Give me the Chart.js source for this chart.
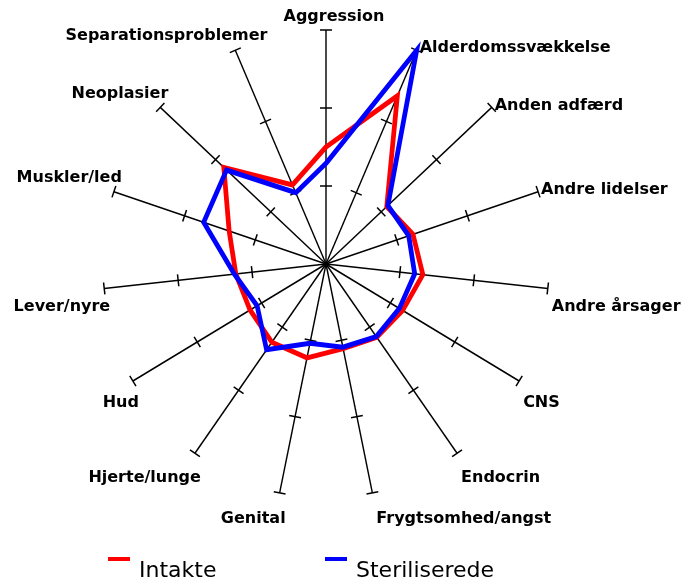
<!DOCTYPE html>
<html>
<head>
<meta charset="utf-8">
<title>Dødsårsager – radar</title>
<script src="https://cdn.jsdelivr.net/npm/chart.js@4.4.1/dist/chart.umd.min.js"></script>
<style>
  body { margin: 0; background: #fff; }
  #wrap { width: 683px; height: 581px; }
</style>
</head>
<body>
<div id="wrap"><canvas id="radarChart"></canvas></div>
<script>
const categories = [
    'Aggression', 'Alderdomssvækkelse', 'Anden adfærd', 'Andre lidelser', 'Andre årsager',
    'CNS', 'Endocrin', 'Frygtsomhed/angst', 'Genital', 'Hjerte/lunge',
    'Hud', 'Lever/nyre', 'Muskler/led', 'Neoplasier', 'Separationsproblemer'
];
const intakte =       [15.0, 23.6, 11.0, 12.3, 13.1, 11.9, 11.6, 11.1, 12.3, 12.4, 11.8, 12.2, 13.7, 18.5, 11.1];
const steriliserede = [12.9, 30.0, 11.2, 11.7, 12.0, 11.4, 11.5, 10.9, 10.4, 13.6, 10.7, 12.4, 17.3, 18.0, 10.0];
const tickValues = [10, 20, 30];
const seriesNames = ['Intakte', 'Steriliserede'];
const seriesColors = ['#ff0000', '#0000ff'];

// the web is drawn a little narrower than it is tall
const xSquash = 0.953;

function toScreen(scale, p) {
    return { x: scale.xCenter + (p.x - scale.xCenter) * xSquash, y: p.y };
}

const radarExtras = {
    id: 'radarExtras',
    beforeDraw(chart) {
        const r = chart.scales.r;
        const ctx = chart.ctx;
        ctx.save();
        ctx.translate(r.xCenter, 0);
        ctx.scale(xSquash, 1);
        ctx.translate(-r.xCenter, 0);
    },
    beforeDatasetsDraw(chart) {
        // small cross ticks on every spoke
        const r = chart.scales.r;
        const ctx = chart.ctx;
        const dpr = chart.currentDevicePixelRatio;
        ctx.save();
        ctx.setTransform(dpr, 0, 0, dpr, 0, 0);
        ctx.strokeStyle = '#000';
        ctx.lineWidth = 1.5;
        categories.forEach((label, i) => {
            const end = toScreen(r, r.getPointPositionForValue(i, r.max));
            const dx = end.x - r.xCenter, dy = end.y - r.yCenter;
            const len = Math.hypot(dx, dy);
            const nx = -dy / len, ny = dx / len;
            tickValues.forEach(v => {
                const p = toScreen(r, r.getPointPositionForValue(i, v));
                ctx.beginPath();
                ctx.moveTo(p.x - nx * 6, p.y - ny * 6);
                ctx.lineTo(p.x + nx * 6, p.y + ny * 6);
                ctx.stroke();
            });
        });
        ctx.restore();
    },
    afterDatasetsDraw(chart) {
        chart.ctx.restore();
    },
    afterDraw(chart) {
        const r = chart.scales.r;
        const ctx = chart.ctx;
        ctx.save();

        // spoke labels
        ctx.fillStyle = '#000';
        ctx.font = 'bold 16px "DejaVu Sans"';
        ctx.textBaseline = 'middle';
        chart.data.labels.forEach((label, i) => {
            const end = toScreen(r, r.getPointPositionForValue(i, r.max));
            const dx = end.x - r.xCenter, dy = r.yCenter - end.y;
            const len = Math.hypot(dx, dy);
            const s = dx / len, c = dy / len;
            let x, y;
            if (Math.abs(s) < 0.05 && c > 0) {
                ctx.textAlign = 'center';
                x = end.x + 8;
                y = end.y - 13;
            } else if (c < -0.05) {
                ctx.textAlign = s > 0 ? 'left' : 'right';
                x = end.x + (s > 0 ? 4 : 6);
                y = end.y + 18 - 8 * c;
            } else if (s > 0) {
                ctx.textAlign = 'left';
                x = end.x + 3;
                y = end.y - 2;
            } else {
                ctx.textAlign = 'right';
                // steep spokes push their label further right
                x = end.x + 8 + Math.max(0, c - 0.8) * 200;
                y = end.y - 14;
            }
            ctx.fillText(label, x, y);
        });

        // legend
        ctx.font = '22px "DejaVu Sans"';
        ctx.textAlign = 'left';
        ctx.textBaseline = 'alphabetic';
        chart.data.datasets.forEach((ds, i) => {
            const x0 = 108 + i * 217;
            ctx.strokeStyle = ds.borderColor;
            ctx.lineWidth = 4;
            ctx.beginPath();
            ctx.moveTo(x0, 559);
            ctx.lineTo(x0 + 22, 559);
            ctx.stroke();
            ctx.fillStyle = '#000';
            ctx.fillText(ds.label, x0 + 31, 577);
        });
        ctx.restore();
    }
};

const ctx = document.getElementById('radarChart').getContext('2d');
new Chart(ctx, {
    type: 'radar',
    data: {
        labels: categories,
        datasets: [
            {
                label: seriesNames[0],
                data: intakte,
                borderColor: seriesColors[0],
                order: 1,
            },
            {
                label: seriesNames[1],
                data: steriliserede,
                borderColor: seriesColors[1],
                order: 0,
            },
        ],
    },
    options: {
        responsive: true,
        maintainAspectRatio: false,
        animation: false,
        events: [],
        layout: {
            padding: { left: 92, right: 123, top: 30, bottom: 83 },
        },
        elements: {
            line: {
                borderWidth: 5,
                fill: false,
                tension: 0,
                borderJoinStyle: 'miter',
            },
            point: { radius: 0 },
        },
        scales: {
            r: {
                min: 0,
                max: 30,
                ticks: { display: false, stepSize: 10 },
                grid: { display: false },
                angleLines: { color: '#000', lineWidth: 1.5 },
                pointLabels: { display: false },
            },
        },
        plugins: {
            legend: { display: false },
            tooltip: { enabled: false },
        },
    },
    plugins: [radarExtras],
});
</script>
</body>
</html>
